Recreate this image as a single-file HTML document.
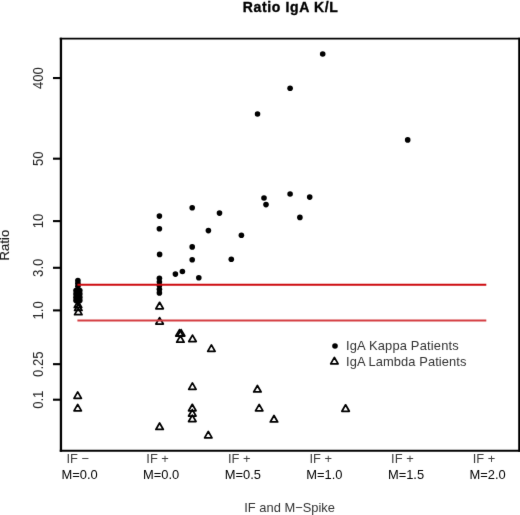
<!DOCTYPE html><html><head><meta charset="utf-8"><style>html,body{margin:0;padding:0;background:#fff;overflow:hidden;}svg{display:block;}text{font-family:"Liberation Sans",sans-serif;}.r{stroke:#1a1a1a;stroke-width:0.15px;fill:#1a1a1a;}.r2{stroke:#000;stroke-width:0.35px;}</style></head><body>
<svg width="520" height="515" viewBox="0 0 520 515">
<defs><filter id="bl" x="0" y="0" width="520" height="515" filterUnits="userSpaceOnUse" color-interpolation-filters="sRGB"><feConvolveMatrix order="3" kernelMatrix="0.00524 0.06192 0.00524 0.06192 0.73137 0.06192 0.00524 0.06192 0.00524" edgeMode="duplicate" preserveAlpha="true"/></filter></defs>
<g filter="url(#bl)">
<rect width="520" height="515" fill="#fff"/>
<text x="290.3" y="12.0" text-anchor="middle" font-weight="bold" class="r2" font-size="14.0" textLength="95.0" lengthAdjust="spacing">Ratio IgA K/L</text>
<g fill="#000">
<circle cx="77.9" cy="280.6" r="2.8"/>
<circle cx="77.9" cy="283.2" r="2.8"/>
<circle cx="77.9" cy="286.2" r="2.8"/>
<circle cx="76.0" cy="290.6" r="2.8"/>
<circle cx="79.8" cy="290.6" r="2.8"/>
<circle cx="76.0" cy="293.9" r="2.8"/>
<circle cx="79.8" cy="293.9" r="2.8"/>
<circle cx="76.0" cy="297.2" r="2.8"/>
<circle cx="79.8" cy="297.2" r="2.8"/>
<circle cx="76.0" cy="300.4" r="2.8"/>
<circle cx="79.8" cy="300.4" r="2.8"/>
<circle cx="77.9" cy="301.6" r="2.8"/>
<circle cx="159.4" cy="216.1" r="2.8"/>
<circle cx="159.4" cy="228.7" r="2.8"/>
<circle cx="159.6" cy="254.4" r="2.8"/>
<circle cx="159.4" cy="278.3" r="2.8"/>
<circle cx="159.4" cy="282" r="2.8"/>
<circle cx="159.4" cy="285.5" r="2.8"/>
<circle cx="159.4" cy="289.2" r="2.8"/>
<circle cx="159.4" cy="292.9" r="2.8"/>
<circle cx="175.4" cy="274.1" r="2.8"/>
<circle cx="182.4" cy="271.5" r="2.8"/>
<circle cx="192.2" cy="207.8" r="2.8"/>
<circle cx="192.2" cy="246.9" r="2.8"/>
<circle cx="192.2" cy="259.7" r="2.8"/>
<circle cx="198.8" cy="277.8" r="2.8"/>
<circle cx="208.4" cy="230.6" r="2.8"/>
<circle cx="219.5" cy="213.1" r="2.8"/>
<circle cx="231.3" cy="259.3" r="2.8"/>
<circle cx="241.4" cy="235.3" r="2.8"/>
<circle cx="257.5" cy="114" r="2.8"/>
<circle cx="264" cy="198" r="2.8"/>
<circle cx="266" cy="204.6" r="2.8"/>
<circle cx="290.1" cy="88.3" r="2.8"/>
<circle cx="290.1" cy="194" r="2.8"/>
<circle cx="299.9" cy="217.4" r="2.8"/>
<circle cx="309.7" cy="197.1" r="2.8"/>
<circle cx="322.7" cy="54" r="2.8"/>
<circle cx="407.7" cy="139.9" r="2.8"/>
</g>
<g fill="none" stroke="#000" stroke-width="1.75" stroke-linejoin="round">
<path d="M78.00,301.00L81.72,307.45L74.28,307.45Z"/>
<path d="M78.30,304.00L82.02,310.45L74.58,310.45Z"/>
<path d="M78.30,308.20L82.02,314.65L74.58,314.65Z"/>
<path d="M77.70,391.90L81.42,398.35L73.98,398.35Z"/>
<path d="M77.70,404.40L81.42,410.85L73.98,410.85Z"/>
<path d="M159.60,302.30L163.32,308.75L155.88,308.75Z"/>
<path d="M159.60,317.60L163.32,324.05L155.88,324.05Z"/>
<path d="M159.60,423.00L163.32,429.45L155.88,429.45Z"/>
<path d="M179.50,329.60L183.22,336.05L175.78,336.05Z"/>
<path d="M181.10,329.60L184.82,336.05L177.38,336.05Z"/>
<path d="M180.40,335.70L184.12,342.15L176.68,342.15Z"/>
<path d="M192.50,335.10L196.22,341.55L188.78,341.55Z"/>
<path d="M211.40,344.90L215.12,351.35L207.68,351.35Z"/>
<path d="M192.40,382.90L196.12,389.35L188.68,389.35Z"/>
<path d="M192.30,404.30L196.02,410.75L188.58,410.75Z"/>
<path d="M192.30,409.60L196.02,416.05L188.58,416.05Z"/>
<path d="M192.30,415.10L196.02,421.55L188.58,421.55Z"/>
<path d="M208.30,431.40L212.02,437.85L204.58,437.85Z"/>
<path d="M257.40,385.50L261.12,391.95L253.68,391.95Z"/>
<path d="M259.20,404.40L262.92,410.85L255.48,410.85Z"/>
<path d="M274.00,415.50L277.72,421.95L270.28,421.95Z"/>
<path d="M345.60,404.80L349.32,411.25L341.88,411.25Z"/>
</g>
<line x1="77.4" y1="284.70" x2="486.3" y2="284.70" stroke="rgb(205,10,15)" stroke-width="1.85"/>
<line x1="77.4" y1="320.5" x2="486.3" y2="320.5" stroke="rgb(212,60,65)" stroke-width="2.2"/>
<g stroke="#000" fill="none">
<line x1="60.95" y1="37.75" x2="60.95" y2="451.85" stroke-width="2.3"/>
<line x1="59.75" y1="38.6" x2="520.0" y2="38.6" stroke-width="1.7"/>
<line x1="59.75" y1="450.75" x2="520.0" y2="450.75" stroke-width="2.2"/>
<line x1="519.1" y1="37.75" x2="519.1" y2="451.85" stroke-width="1.8"/>
</g>
<line x1="53" y1="78.04" x2="60.95" y2="78.04" stroke="#000" stroke-width="2.1"/>
<text transform="translate(42.6,78.04) rotate(-90) scale(1,1.07)" fill="#262626" text-anchor="middle" font-size="13.1">400</text>
<line x1="53" y1="158.68" x2="60.95" y2="158.68" stroke="#000" stroke-width="2.1"/>
<text transform="translate(42.6,158.68) rotate(-90) scale(1,1.07)" fill="#262626" text-anchor="middle" font-size="13.1">50</text>
<line x1="53" y1="221.10" x2="60.95" y2="221.10" stroke="#000" stroke-width="2.1"/>
<text transform="translate(42.6,221.10) rotate(-90) scale(1,1.07)" fill="#262626" text-anchor="middle" font-size="13.1">10</text>
<line x1="53" y1="267.79" x2="60.95" y2="267.79" stroke="#000" stroke-width="2.1"/>
<text transform="translate(42.6,267.79) rotate(-90) scale(1,1.07)" fill="#262626" text-anchor="middle" font-size="13.1">3.0</text>
<line x1="53" y1="310.40" x2="60.95" y2="310.40" stroke="#000" stroke-width="2.1"/>
<text transform="translate(42.6,310.40) rotate(-90) scale(1,1.07)" fill="#262626" text-anchor="middle" font-size="13.1">1.0</text>
<line x1="53" y1="364.16" x2="60.95" y2="364.16" stroke="#000" stroke-width="2.1"/>
<text transform="translate(42.6,364.16) rotate(-90) scale(1,1.07)" fill="#262626" text-anchor="middle" font-size="13.1">0.25</text>
<line x1="53" y1="399.70" x2="60.95" y2="399.70" stroke="#000" stroke-width="2.1"/>
<text transform="translate(42.6,399.70) rotate(-90) scale(1,1.07)" fill="#262626" text-anchor="middle" font-size="13.1">0.1</text>
<text x="77.80" y="463.2" text-anchor="middle" font-size="12.9" fill="#3c3c3c">IF −</text>
<text x="79.60" y="479.0" text-anchor="middle" font-size="12.9">M=0.0</text>
<text x="157.60" y="463.2" text-anchor="middle" font-size="12.9" fill="#3c3c3c">IF +</text>
<text x="161.20" y="479.0" text-anchor="middle" font-size="12.9">M=0.0</text>
<text x="239.20" y="463.2" text-anchor="middle" font-size="12.9" fill="#3c3c3c">IF +</text>
<text x="242.80" y="479.0" text-anchor="middle" font-size="12.9">M=0.5</text>
<text x="320.80" y="463.2" text-anchor="middle" font-size="12.9" fill="#3c3c3c">IF +</text>
<text x="324.40" y="479.0" text-anchor="middle" font-size="12.9">M=1.0</text>
<text x="402.40" y="463.2" text-anchor="middle" font-size="12.9" fill="#3c3c3c">IF +</text>
<text x="406.00" y="479.0" text-anchor="middle" font-size="12.9">M=1.5</text>
<text x="484.00" y="463.2" text-anchor="middle" font-size="12.9" fill="#3c3c3c">IF +</text>
<text x="487.60" y="479.0" text-anchor="middle" font-size="12.9">M=2.0</text>
<text x="289.6" y="511.6" text-anchor="middle" font-size="12.9" fill="#333">IF and M−Spike</text>
<text transform="translate(9.1,245.1) rotate(-90)" class="r" text-anchor="middle" font-size="13.2">Ratio</text>
<circle cx="335" cy="346" r="2.8" fill="#000"/>
<path d="M334.40,357.40L338.12,363.85L330.68,363.85Z" fill="none" stroke="#000" stroke-width="1.75" stroke-linejoin="round"/>
<text x="346" y="350.3" font-size="12.9" fill="#333" textLength="112.7">IgA Kappa Patients</text>
<text x="346" y="366.0" font-size="12.9" fill="#333" textLength="120.4">IgA Lambda Patients</text>
</g></svg></body></html>
